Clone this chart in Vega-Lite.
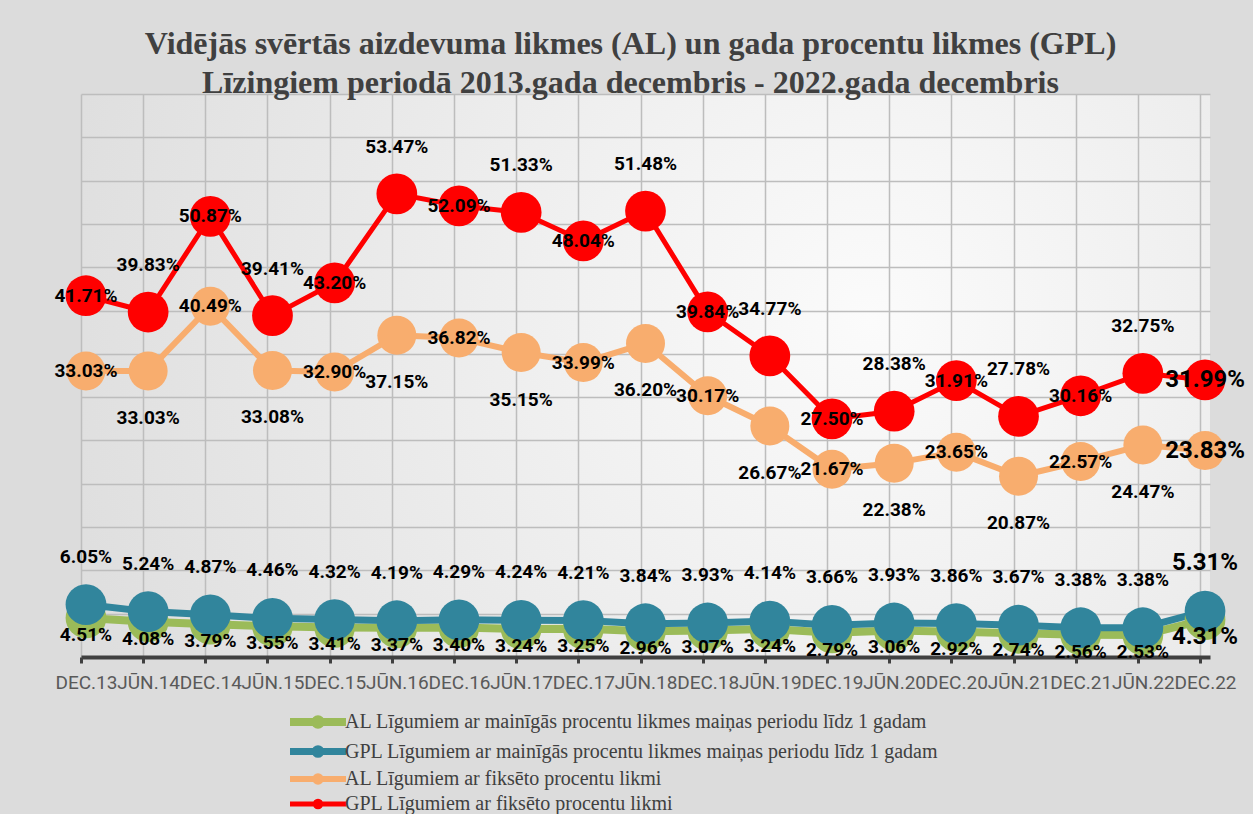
{
  "$schema": "https://vega.github.io/schema/vega-lite/v6.json",
  "autosize": "none",
  "width": 1129,
  "height": 563,
  "padding": {"left": 81, "top": 94, "right": 43, "bottom": 157},
  "background": "#dcdcdc",
  "config": {
    "view": {"stroke": null, "fill": {"gradient": "radial", "x1": 0.7, "y1": 0.45, "r1": 0, "x2": 0.7, "y2": 0.45, "r2": 0.8, "stops": [{"offset": 0, "color": "#fbfbfb"}, {"offset": 1, "color": "#dcdcdc"}]}},
    "text": {"font": "Roboto", "fontWeight": "bold", "color": "#000000"}
  },
  "title": {
    "text": ["Vidējās svērtās aizdevuma likmes (AL) un gada procentu likmes (GPL)", "Līzingiem periodā 2013.gada decembris - 2022.gada decembris"],
    "font": "Liberation Serif", "fontSize": 32, "fontWeight": "bold", "color": "#404040",
    "lineHeight": 39, "anchor": "middle", "baseline": "top", "offset": -6, "dx": -15
  },
  "datasets": {
    "rates": [
      {"p": "DEC.13", "s": "AL Līgumiem ar mainīgās procentu likmes maiņas periodu līdz 1 gadam", "v": 0.0451},
      {"p": "JŪN.14", "s": "AL Līgumiem ar mainīgās procentu likmes maiņas periodu līdz 1 gadam", "v": 0.0408},
      {"p": "DEC.14", "s": "AL Līgumiem ar mainīgās procentu likmes maiņas periodu līdz 1 gadam", "v": 0.0379},
      {"p": "JŪN.15", "s": "AL Līgumiem ar mainīgās procentu likmes maiņas periodu līdz 1 gadam", "v": 0.0355},
      {"p": "DEC.15", "s": "AL Līgumiem ar mainīgās procentu likmes maiņas periodu līdz 1 gadam", "v": 0.0341},
      {"p": "JŪN.16", "s": "AL Līgumiem ar mainīgās procentu likmes maiņas periodu līdz 1 gadam", "v": 0.0337},
      {"p": "DEC.16", "s": "AL Līgumiem ar mainīgās procentu likmes maiņas periodu līdz 1 gadam", "v": 0.0340},
      {"p": "JŪN.17", "s": "AL Līgumiem ar mainīgās procentu likmes maiņas periodu līdz 1 gadam", "v": 0.0324},
      {"p": "DEC.17", "s": "AL Līgumiem ar mainīgās procentu likmes maiņas periodu līdz 1 gadam", "v": 0.0325},
      {"p": "JŪN.18", "s": "AL Līgumiem ar mainīgās procentu likmes maiņas periodu līdz 1 gadam", "v": 0.0296},
      {"p": "DEC.18", "s": "AL Līgumiem ar mainīgās procentu likmes maiņas periodu līdz 1 gadam", "v": 0.0307},
      {"p": "JŪN.19", "s": "AL Līgumiem ar mainīgās procentu likmes maiņas periodu līdz 1 gadam", "v": 0.0324},
      {"p": "DEC.19", "s": "AL Līgumiem ar mainīgās procentu likmes maiņas periodu līdz 1 gadam", "v": 0.0279},
      {"p": "JŪN.20", "s": "AL Līgumiem ar mainīgās procentu likmes maiņas periodu līdz 1 gadam", "v": 0.0306},
      {"p": "DEC.20", "s": "AL Līgumiem ar mainīgās procentu likmes maiņas periodu līdz 1 gadam", "v": 0.0292},
      {"p": "JŪN.21", "s": "AL Līgumiem ar mainīgās procentu likmes maiņas periodu līdz 1 gadam", "v": 0.0274},
      {"p": "DEC.21", "s": "AL Līgumiem ar mainīgās procentu likmes maiņas periodu līdz 1 gadam", "v": 0.0256},
      {"p": "JŪN.22", "s": "AL Līgumiem ar mainīgās procentu likmes maiņas periodu līdz 1 gadam", "v": 0.0253},
      {"p": "DEC.22", "s": "AL Līgumiem ar mainīgās procentu likmes maiņas periodu līdz 1 gadam", "v": 0.0431},
      {"p": "DEC.13", "s": "GPL Līgumiem ar mainīgās procentu likmes maiņas periodu līdz 1 gadam", "v": 0.0605},
      {"p": "JŪN.14", "s": "GPL Līgumiem ar mainīgās procentu likmes maiņas periodu līdz 1 gadam", "v": 0.0524},
      {"p": "DEC.14", "s": "GPL Līgumiem ar mainīgās procentu likmes maiņas periodu līdz 1 gadam", "v": 0.0487},
      {"p": "JŪN.15", "s": "GPL Līgumiem ar mainīgās procentu likmes maiņas periodu līdz 1 gadam", "v": 0.0446},
      {"p": "DEC.15", "s": "GPL Līgumiem ar mainīgās procentu likmes maiņas periodu līdz 1 gadam", "v": 0.0432},
      {"p": "JŪN.16", "s": "GPL Līgumiem ar mainīgās procentu likmes maiņas periodu līdz 1 gadam", "v": 0.0419},
      {"p": "DEC.16", "s": "GPL Līgumiem ar mainīgās procentu likmes maiņas periodu līdz 1 gadam", "v": 0.0429},
      {"p": "JŪN.17", "s": "GPL Līgumiem ar mainīgās procentu likmes maiņas periodu līdz 1 gadam", "v": 0.0424},
      {"p": "DEC.17", "s": "GPL Līgumiem ar mainīgās procentu likmes maiņas periodu līdz 1 gadam", "v": 0.0421},
      {"p": "JŪN.18", "s": "GPL Līgumiem ar mainīgās procentu likmes maiņas periodu līdz 1 gadam", "v": 0.0384},
      {"p": "DEC.18", "s": "GPL Līgumiem ar mainīgās procentu likmes maiņas periodu līdz 1 gadam", "v": 0.0393},
      {"p": "JŪN.19", "s": "GPL Līgumiem ar mainīgās procentu likmes maiņas periodu līdz 1 gadam", "v": 0.0414},
      {"p": "DEC.19", "s": "GPL Līgumiem ar mainīgās procentu likmes maiņas periodu līdz 1 gadam", "v": 0.0366},
      {"p": "JŪN.20", "s": "GPL Līgumiem ar mainīgās procentu likmes maiņas periodu līdz 1 gadam", "v": 0.0393},
      {"p": "DEC.20", "s": "GPL Līgumiem ar mainīgās procentu likmes maiņas periodu līdz 1 gadam", "v": 0.0386},
      {"p": "JŪN.21", "s": "GPL Līgumiem ar mainīgās procentu likmes maiņas periodu līdz 1 gadam", "v": 0.0367},
      {"p": "DEC.21", "s": "GPL Līgumiem ar mainīgās procentu likmes maiņas periodu līdz 1 gadam", "v": 0.0338},
      {"p": "JŪN.22", "s": "GPL Līgumiem ar mainīgās procentu likmes maiņas periodu līdz 1 gadam", "v": 0.0338},
      {"p": "DEC.22", "s": "GPL Līgumiem ar mainīgās procentu likmes maiņas periodu līdz 1 gadam", "v": 0.0531},
      {"p": "DEC.13", "s": "AL Līgumiem ar fiksēto procentu likmi", "v": 0.3303},
      {"p": "JŪN.14", "s": "AL Līgumiem ar fiksēto procentu likmi", "v": 0.3303},
      {"p": "DEC.14", "s": "AL Līgumiem ar fiksēto procentu likmi", "v": 0.4049},
      {"p": "JŪN.15", "s": "AL Līgumiem ar fiksēto procentu likmi", "v": 0.3308},
      {"p": "DEC.15", "s": "AL Līgumiem ar fiksēto procentu likmi", "v": 0.3290},
      {"p": "JŪN.16", "s": "AL Līgumiem ar fiksēto procentu likmi", "v": 0.3715},
      {"p": "DEC.16", "s": "AL Līgumiem ar fiksēto procentu likmi", "v": 0.3682},
      {"p": "JŪN.17", "s": "AL Līgumiem ar fiksēto procentu likmi", "v": 0.3515},
      {"p": "DEC.17", "s": "AL Līgumiem ar fiksēto procentu likmi", "v": 0.3399},
      {"p": "JŪN.18", "s": "AL Līgumiem ar fiksēto procentu likmi", "v": 0.3620},
      {"p": "DEC.18", "s": "AL Līgumiem ar fiksēto procentu likmi", "v": 0.3017},
      {"p": "JŪN.19", "s": "AL Līgumiem ar fiksēto procentu likmi", "v": 0.2667},
      {"p": "DEC.19", "s": "AL Līgumiem ar fiksēto procentu likmi", "v": 0.2167},
      {"p": "JŪN.20", "s": "AL Līgumiem ar fiksēto procentu likmi", "v": 0.2238},
      {"p": "DEC.20", "s": "AL Līgumiem ar fiksēto procentu likmi", "v": 0.2365},
      {"p": "JŪN.21", "s": "AL Līgumiem ar fiksēto procentu likmi", "v": 0.2087},
      {"p": "DEC.21", "s": "AL Līgumiem ar fiksēto procentu likmi", "v": 0.2257},
      {"p": "JŪN.22", "s": "AL Līgumiem ar fiksēto procentu likmi", "v": 0.2447},
      {"p": "DEC.22", "s": "AL Līgumiem ar fiksēto procentu likmi", "v": 0.2383},
      {"p": "DEC.13", "s": "GPL Līgumiem ar fiksēto procentu likmi", "v": 0.4171},
      {"p": "JŪN.14", "s": "GPL Līgumiem ar fiksēto procentu likmi", "v": 0.3983},
      {"p": "DEC.14", "s": "GPL Līgumiem ar fiksēto procentu likmi", "v": 0.5087},
      {"p": "JŪN.15", "s": "GPL Līgumiem ar fiksēto procentu likmi", "v": 0.3941},
      {"p": "DEC.15", "s": "GPL Līgumiem ar fiksēto procentu likmi", "v": 0.4320},
      {"p": "JŪN.16", "s": "GPL Līgumiem ar fiksēto procentu likmi", "v": 0.5347},
      {"p": "DEC.16", "s": "GPL Līgumiem ar fiksēto procentu likmi", "v": 0.5209},
      {"p": "JŪN.17", "s": "GPL Līgumiem ar fiksēto procentu likmi", "v": 0.5133},
      {"p": "DEC.17", "s": "GPL Līgumiem ar fiksēto procentu likmi", "v": 0.4804},
      {"p": "JŪN.18", "s": "GPL Līgumiem ar fiksēto procentu likmi", "v": 0.5148},
      {"p": "DEC.18", "s": "GPL Līgumiem ar fiksēto procentu likmi", "v": 0.3984},
      {"p": "JŪN.19", "s": "GPL Līgumiem ar fiksēto procentu likmi", "v": 0.3477},
      {"p": "DEC.19", "s": "GPL Līgumiem ar fiksēto procentu likmi", "v": 0.2750},
      {"p": "JŪN.20", "s": "GPL Līgumiem ar fiksēto procentu likmi", "v": 0.2838},
      {"p": "DEC.20", "s": "GPL Līgumiem ar fiksēto procentu likmi", "v": 0.3191},
      {"p": "JŪN.21", "s": "GPL Līgumiem ar fiksēto procentu likmi", "v": 0.2778},
      {"p": "DEC.21", "s": "GPL Līgumiem ar fiksēto procentu likmi", "v": 0.3016},
      {"p": "JŪN.22", "s": "GPL Līgumiem ar fiksēto procentu likmi", "v": 0.3275},
      {"p": "DEC.22", "s": "GPL Līgumiem ar fiksēto procentu likmi", "v": 0.3199}
    ]
  },
  "data": {"name": "rates"},
  "encoding": {
    "x": {
      "field": "p", "type": "nominal", "sort": null, "title": null,
      "scale": {"type": "point", "padding": 0.08},
      "axis": {
        "labelAngle": 0, "labelFont": "Roboto", "labelFontSize": 19, "labelColor": "#595959",
        "labelOverlap": false, "labelBound": false, "labelPadding": 10, "labelOffset": 5,
        "tickOffset": -5, "tickSize": 6, "tickWidth": 3, "tickColor": "#404040",
        "domainColor": "#404040", "domainWidth": 4,
        "grid": true, "gridColor": "#bdbdbd", "gridWidth": 1.5
      }
    },
    "y": {
      "field": "v", "type": "quantitative", "title": null,
      "scale": {"domain": [0, 0.65], "nice": false},
      "axis": {
        "values": [0.05, 0.1, 0.15, 0.2, 0.25, 0.3, 0.35, 0.4, 0.45, 0.5, 0.55, 0.6, 0.65],
        "labels": false, "ticks": false, "domain": false,
        "grid": true, "gridColor": "#bdbdbd", "gridWidth": 1.5
      }
    }
  },
  "layer": [
    {
      "mark": {"type": "line", "strokeJoin": "round"},
      "encoding": {
        "color": {
          "field": "s", "type": "nominal",
          "scale": {
            "domain": ["AL Līgumiem ar mainīgās procentu likmes maiņas periodu līdz 1 gadam", "GPL Līgumiem ar mainīgās procentu likmes maiņas periodu līdz 1 gadam", "AL Līgumiem ar fiksēto procentu likmi", "GPL Līgumiem ar fiksēto procentu likmi"],
            "range": ["#9BBB59", "#31859C", "#F8AD6E", "#FF0000"]
          },
          "legend": {
            "title": null, "orient": "none", "legendX": 205, "legendY": 617, "padding": 0,
            "symbolType": "M-1,0L7,0M2.6,0A0.4,0.4 0 1,0 3.4,0A0.4,0.4 0 1,0 2.6,0",
            "symbolSize": 196, "symbolStrokeWidth": 7, "symbolFillColor": "transparent",
            "labelFont": "Liberation Serif", "labelFontSize": 20, "labelColor": "#404040",
            "labelOffset": 37, "rowPadding": -12, "labelLimit": 900
          }
        },
        "strokeWidth": {
          "field": "s", "type": "ordinal", "legend": null,
          "scale": {
            "domain": ["AL Līgumiem ar mainīgās procentu likmes maiņas periodu līdz 1 gadam", "GPL Līgumiem ar mainīgās procentu likmes maiņas periodu līdz 1 gadam", "AL Līgumiem ar fiksēto procentu likmi", "GPL Līgumiem ar fiksēto procentu likmi"],
            "range": [8, 5, 6, 6]
          }
        }
      }
    },
    {
      "mark": {"type": "point", "filled": true, "opacity": 1},
      "encoding": {
        "color": {"field": "s", "type": "nominal", "legend": null},
        "size": {"condition": {"test": "datum.s === 'AL Līgumiem ar fiksēto procentu likmi'", "value": 1520}, "value": 1660}
      }
    },
    {
      "transform": [{"filter": "datum.s === 'GPL Līgumiem ar mainīgās procentu likmes maiņas periodu līdz 1 gadam'"}],
      "mark": {"type": "text", "dy": -48},
      "encoding": {
        "text": {"field": "v", "type": "quantitative", "format": ".2%"},
        "size": {"condition": {"test": "datum.p === 'DEC.22'", "value": 24}, "value": 19}
      }
    },
    {
      "transform": [{"filter": "datum.s === 'AL Līgumiem ar mainīgās procentu likmes maiņas periodu līdz 1 gadam'"}],
      "mark": {"type": "text", "dy": 17},
      "encoding": {
        "text": {"field": "v", "type": "quantitative", "format": ".2%"},
        "size": {"condition": {"test": "datum.p === 'DEC.22'", "value": 24}, "value": 19}
      }
    },
    {
      "transform": [{"filter": "datum.s === 'GPL Līgumiem ar fiksēto procentu likmi' && indexof(datum.p, 'DEC') === 0"}],
      "mark": {"type": "text", "dy": 0},
      "encoding": {
        "text": {"field": "v", "type": "quantitative", "format": ".2%"},
        "size": {"condition": {"test": "datum.p === 'DEC.22'", "value": 24}, "value": 19}
      }
    },
    {
      "transform": [{"filter": "datum.s === 'GPL Līgumiem ar fiksēto procentu likmi' && indexof(datum.p, 'DEC') !== 0"}],
      "mark": {"type": "text", "dy": -47},
      "encoding": {
        "text": {"field": "v", "type": "quantitative", "format": ".2%"},
        "size": {"value": 19}
      }
    },
    {
      "transform": [{"filter": "datum.s === 'AL Līgumiem ar fiksēto procentu likmi' && indexof(datum.p, 'DEC') === 0"}],
      "mark": {"type": "text", "dy": 0},
      "encoding": {
        "text": {"field": "v", "type": "quantitative", "format": ".2%"},
        "size": {"condition": {"test": "datum.p === 'DEC.22'", "value": 24}, "value": 19}
      }
    },
    {
      "transform": [{"filter": "datum.s === 'AL Līgumiem ar fiksēto procentu likmi' && indexof(datum.p, 'DEC') !== 0"}],
      "mark": {"type": "text", "dy": 47},
      "encoding": {
        "text": {"field": "v", "type": "quantitative", "format": ".2%"},
        "size": {"value": 19}
      }
    }
  ]
}
